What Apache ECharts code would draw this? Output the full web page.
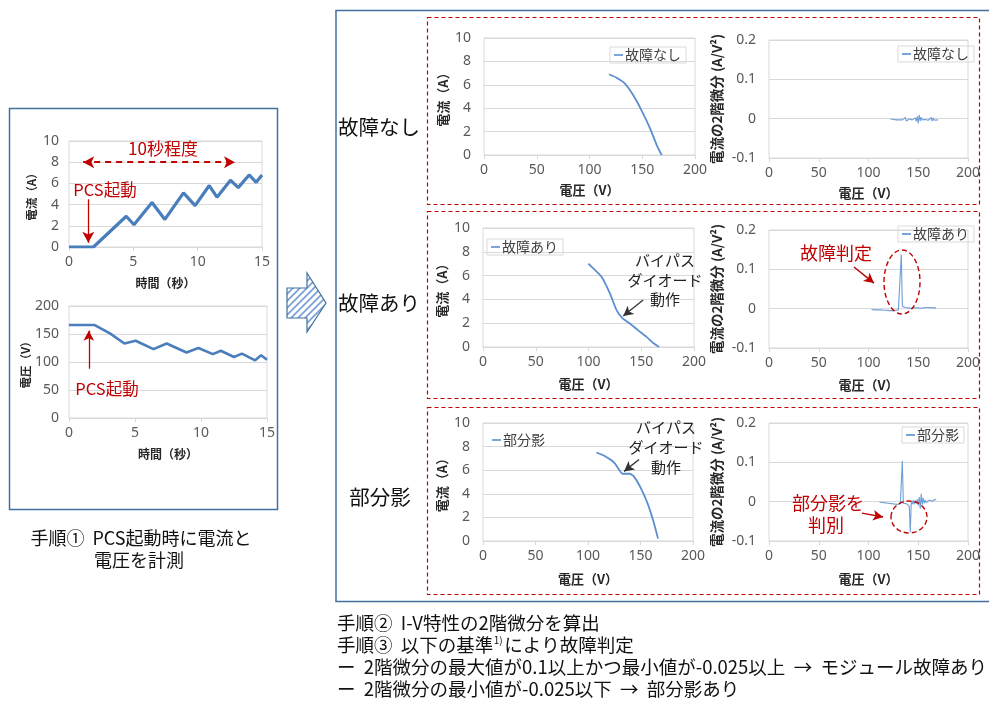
<!DOCTYPE html>
<html><head><meta charset="utf-8">
<script src="https://cdn.jsdelivr.net/npm/echarts@6/dist/echarts.min.js"></script>
<style>html,body{margin:0;padding:0;background:#fff}#c{width:989px;height:702px}</style>
</head><body><div id="c"></div>
<script>
// ---------- data ----------
const currentT = [0, 1.9, 4.45, 5.05, 6.45, 7.45, 8.9, 9.8, 10.9, 11.5, 12.55, 13.15, 14.0, 14.55, 15];
const currentA = [0, 0, 2.9, 2.1, 4.2, 2.6, 5.1, 3.9, 5.8, 4.7, 6.3, 5.6, 6.8, 6.1, 6.8];
const voltageT = [0, 1.95, 3.1, 4.2, 5.05, 6.4, 7.4, 8.9, 9.8, 10.9, 11.5, 12.5, 13.1, 14.1, 14.55, 15];
const voltageV = [166, 166, 151, 133, 138, 123, 133, 117, 125, 114, 120, 109, 115, 103, 112, 104];

const ivNoneV = [118.5, 125.7, 133.6, 141.5, 149.4, 157.3, 163.7, 168.4];
const ivNoneI = [6.9, 6.6, 6.1, 5.1, 3.8, 2.3, 0.85, 0];
const ivFaultV = [99.8, 104.6, 112.4, 120.3, 126.6, 132.3, 139.2, 147.1, 155, 161.3, 166.9];
const ivFaultI = [7.0, 6.6, 5.9, 4.5, 3.1, 2.4, 1.97, 1.4, 0.85, 0.34, 0];
const ivShadeV = [108, 115.9, 125.4, 132.7, 139.7, 143.5, 150.8, 157.1, 162.5, 166.7];
const ivShadeI = [7.5, 7.2, 6.6, 5.7, 5.7, 5.5, 4.4, 3.1, 1.6, 0.2];

const d2NoneV = [122,123,124,125,126,127,128,129,130,131,132,133,134,135,136,137,138,139,140,141,142,143,144,145,146,147,148,149,150,151,152,153,154,155,156,157,158,159,160,161,162,163,164,165,166,167,168,169,170];
const d2NoneVal = [-0.001,-0.002,-0.001,-0.002,-0.002,-0.001,-0.003,-0.002,-0.002,-0.003,-0.002,-0.004,-0.003,-0.002,-0.008,0.003,-0.006,-0.002,-0.003,-0.001,-0.004,-0.002,-0.003,-0.001,-0.004,0.002,-0.007,0.006,-0.012,0.010,-0.006,0.004,-0.003,-0.001,-0.004,-0.002,-0.003,0.001,-0.004,-0.001,-0.005,0.003,-0.006,0.002,-0.004,-0.002,-0.005,-0.003,-0.004];

const d2FaultV = [103,104,105,106,107,108,109,110,111,112,113,114,115,116,117,118,119,120,121,122,123,124,125,126,127,128,129,130,131,132,133,134,135,136,137,138,139,140,141,142,143,144,145,146,147,148,149,150,151,152,153,154,155,156,157,158,159,160,161,162,163,164,165,166,167,168];
const d2FaultVal = [-0.002,-0.003,-0.002,-0.003,-0.003,-0.002,-0.003,-0.004,-0.003,-0.003,-0.004,-0.003,-0.004,-0.003,-0.004,-0.004,-0.003,-0.004,-0.005,-0.004,-0.004,-0.005,-0.004,-0.005,-0.004,-0.005,-0.004,-0.003,
  -0.002,0.002,0.138,0.006,0.002,
  0.002,0.003,0.001,0.003,0.002,0.002,0.003,0.001,0.002,0.003,0.002,0.001,0.003,0.002,0.002,0.003,0.001,0.002,0.003,0.002,0.002,0.001,0.003,0.002,0.002,0.003,0.001,0.002,0.002,0.003,0.001,0.002,0.002];

const d2ShadeV = [111,112,113,114,115,116,117,118,119,120,121,122,123,124,125,126,127,128,129,130,131,132,133,134,135,136,137,138,139,140,141,142,143,144,145,146,147,148,149,150,151,152,153,154,155,156,157,158,159,160,161,162,163,164,165,166,167,168];
const d2ShadeVal = [-0.001,-0.002,-0.002,-0.002,-0.003,-0.003,-0.003,-0.004,-0.004,-0.004,-0.005,-0.005,-0.005,-0.006,-0.006,-0.006,-0.007,-0.006,-0.007,-0.007,
  -0.006,-0.005,-0.002,0.104,-0.004,-0.003,-0.004,-0.005,-0.006,-0.008,-0.012,-0.078,0.001,-0.006,0.004,-0.007,0.003,-0.004,0.006,-0.010,0.012,-0.018,0.020,-0.008,0.010,-0.004,0.004,-0.002,0.003,0.000,0.004,-0.001,0.004,0.001,0.005,0.002,0.006,0.004];

const timeTicks = [0, 15, 5];
const currentTicks = [0, 10, 2];
const voltageTicks = [0, 200, 50];
const ivXTicks = [0, 200, 50];
const ivYTicks = [0, 10, 2];
const d2YTicks = [-0.1, 0.2, 0.1];

const seriesNames = ['故障なし', '故障あり', '部分影'];

// ---------- helpers ----------
const zip = (a, b) => a.map((v, i) => [v, b[i]]);
const FONT = '"Noto Sans CJK JP", "Noto Sans", sans-serif';
const NUMFONT = '"Noto Sans", "Liberation Sans", sans-serif';
const BLUE = '#4a7ebb';
const RED = '#c00000';

const grids = [
  {left: 69, top: 141, width: 193, height: 106},   // 0 current-time
  {left: 69, top: 306, width: 198, height: 112},   // 1 voltage-time
  {left: 484, top: 38, width: 211, height: 117},   // 2 IV none
  {left: 769, top: 40, width: 199, height: 118},   // 3 d2 none
  {left: 483, top: 228, width: 211, height: 119},  // 4 IV fault
  {left: 769, top: 230, width: 199, height: 118},  // 5 d2 fault
  {left: 483, top: 423, width: 210, height: 118},  // 6 IV shade
  {left: 769, top: 423, width: 199, height: 118}   // 7 d2 shade
];

function xAx(gi, t, name, gap, nameSize) {
  return {
    type: 'value', gridIndex: gi, min: t[0], max: t[1], interval: t[2],
    name: name, nameLocation: 'middle', nameGap: gap,
    nameTextStyle: {fontFamily: FONT, fontWeight: 'bold', fontSize: nameSize, color: '#262626'},
    axisLine: {onZero: false, lineStyle: {color: '#d9d9d9'}},
    axisTick: {show: true, length: 4, lineStyle: {color: '#d9d9d9'}},
    axisLabel: {fontFamily: NUMFONT, fontSize: 14, color: '#595959', margin: 8},
    splitLine: {show: false}
  };
}
function yAx(gi, t, name, gap, nameSize, margin, fmt) {
  return {
    type: 'value', gridIndex: gi, min: t[0], max: t[1], interval: t[2],
    name: name, nameLocation: 'middle', nameGap: gap, nameRotate: 90,
    nameTextStyle: {fontFamily: FONT, fontWeight: 'bold', fontSize: nameSize, color: '#262626'},
    axisLine: {show: false}, axisTick: {show: false},
    axisLabel: {fontFamily: NUMFONT, fontSize: 14, color: '#595959', margin: margin, formatter: fmt},
    splitLine: {show: true, lineStyle: {color: '#d9d9d9', width: 1}}
  };
}
const d2fmt = v => String(Number(v.toFixed(1)));

const xAxis = [
  xAx(0, timeTicks, '時間（秒）', 30, 12),
  xAx(1, timeTicks, '時間（秒）', 30, 12),
  xAx(2, ivXTicks, '電圧（V）', 29, 13),
  xAx(3, ivXTicks, '電圧（V）', 29, 13),
  xAx(4, ivXTicks, '電圧（V）', 31, 13),
  xAx(5, ivXTicks, '電圧（V）', 31, 13),
  xAx(6, ivXTicks, '電圧（V）', 32, 13),
  xAx(7, ivXTicks, '電圧（V）', 32, 13)
];
const yAxis = [
  yAx(0, currentTicks, '電流（A）', 32, 11.5, 10),
  yAx(1, voltageTicks, '電圧（V）', 38, 11.5, 10),
  yAx(2, ivYTicks, '電流（A）', 34, 13, 13),
  yAx(3, d2YTicks, '電流の2階微分 (A/V²)', 45, 13.5, 13, d2fmt),
  yAx(4, ivYTicks, '電流（A）', 34, 13, 13),
  yAx(5, d2YTicks, '電流の2階微分 (A/V²)', 45, 13.5, 13, d2fmt),
  yAx(6, ivYTicks, '電流（A）', 34, 13, 13),
  yAx(7, d2YTicks, '電流の2階微分 (A/V²)', 45, 13.5, 13, d2fmt)
];

function arrowLine(from, to, color, width, dashed, both) {
  return {
    silent: true, animation: false,
    symbol: both ? ['arrow', 'arrow'] : ['none', 'arrow'],
    symbolSize: both ? [11, 12] : [8, 10],
    label: {show: false},
    lineStyle: {color: color, width: width, type: dashed ? [6, 4] : 'solid'},
    emphasis: {disabled: true},
    data: [[{coord: from}, {coord: to}]]
  };
}

function lineSeries(name, gi, data, color, width, smooth, ml) {
  const s = {
    name: name, type: 'line', xAxisIndex: gi, yAxisIndex: gi,
    data: data, showSymbol: false, symbol: 'none', smooth: smooth || false,
    lineStyle: {color: color, width: width}, itemStyle: {color: color},
    emphasis: {disabled: true}, animation: false
  };
  if (ml) s.markLine = ml;
  return s;
}

const series = [
  lineSeries('current', 0, zip(currentT, currentA), BLUE, 3.2, false,
    {
      silent: true, animation: false, label: {show: false}, emphasis: {disabled: true},
      data: [
        [{coord: [1.1, 8], symbol: 'arrow', lineStyle: {color: RED, width: 2.2, type: [6, 5]}},
         {coord: [12.9, 8], symbol: 'arrow'}],
        [{coord: [1.5, 4.5], symbol: 'none', lineStyle: {color: RED, width: 1.3, type: 'solid'}},
         {coord: [1.5, 0.4], symbol: 'arrow'}]
      ],
      symbolSize: [9, 11]
    }),
  lineSeries('voltage', 1, zip(voltageT, voltageV), BLUE, 2.6, false,
    arrowLine([1.5, 88], [1.5, 156], RED, 1.3, false, false)),
  lineSeries(seriesNames[0], 2, zip(ivNoneV, ivNoneI), '#5b8fd0', 1.8, 0.25),
  lineSeries(seriesNames[0], 3, zip(d2NoneV, d2NoneVal), '#6f9fd8', 1.1, false),
  lineSeries(seriesNames[1], 4, zip(ivFaultV, ivFaultI), '#5b8fd0', 1.8, 0.15,
    arrowLine([151.8, 3.94], [132.9, 2.6], '#333', 1.3, false, false)),
  lineSeries(seriesNames[1], 5, zip(d2FaultV, d2FaultVal), '#6f9fd8', 1.1, false,
    arrowLine([85.4, 0.106], [105.5, 0.065], RED, 1.4, false, false)),
  lineSeries(seriesNames[2], 6, zip(ivShadeV, ivShadeI), '#5b8fd0', 1.8, 0.15,
    arrowLine([148.6, 6.9], [134.3, 5.9], '#333', 1.3, false, false)),
  lineSeries(seriesNames[2], 7, zip(d2ShadeV, d2ShadeVal), '#6f9fd8', 1.1, false,
    arrowLine([93.5, -0.029], [114.6, -0.039], RED, 1.4, false, false))
];

function legendAt(name, left, top, border) {
  return {
    data: [name], left: left, top: top, orient: 'horizontal',
    icon: 'rect', itemWidth: 9, itemHeight: 1.6, itemGap: 0,
    padding: [1, 5, 1, 4], borderColor: border ? '#d9d9d9' : 'transparent', borderWidth: 1,
    selectedMode: false,
    textStyle: {fontFamily: FONT, fontSize: 14, color: '#404040', padding: [0, 0, 0, -3]}
  };
}
const legend = [
  legendAt(seriesNames[0], 610, 47, true),
  legendAt(seriesNames[0], 898, 46, true),
  legendAt(seriesNames[1], 487, 239, true),
  legendAt(seriesNames[1], 898, 226, true),
  legendAt(seriesNames[2], 488, 432, false),
  legendAt(seriesNames[2], 902, 427, true)
];

// hatched pattern for the big arrow
const pc = document.createElement('canvas');
pc.width = 7; pc.height = 7;
const pctx = pc.getContext('2d');
pctx.fillStyle = '#ffffff'; pctx.fillRect(0, 0, 7, 7);
pctx.strokeStyle = '#7ea3d6'; pctx.lineWidth = 1.9;
pctx.beginPath();
pctx.moveTo(-1, 8); pctx.lineTo(8, -1);
pctx.moveTo(-4, 4); pctx.lineTo(4, -4);
pctx.moveTo(3, 11); pctx.lineTo(11, 3);
pctx.stroke();

function txt(text, x, y, size, color, align, weight) {
  return {
    type: 'text', silent: true, z: 10,
    style: {
      text: text, x: x, y: y, fill: color || '#222',
      font: (weight || 'normal') + ' ' + size + 'px ' + FONT,
      textAlign: align || 'center', textVerticalAlign: 'middle'
    }
  };
}
function dashBox(x, y, w, h) {
  return {type: 'rect', silent: true, shape: {x: x, y: y, width: w, height: h},
    style: {fill: 'none', stroke: RED, lineWidth: 1.2, lineDash: [4, 3]}};
}

// measure for superscript placement
const BSZ = 18.5;
const mc = document.createElement('canvas').getContext('2d');
mc.font = BSZ + 'px ' + FONT;
const line2a = '手順③  以下の基準';
const w2a = mc.measureText(line2a).width;

const graphic = [
  // blue frames
  {type: 'rect', silent: true, shape: {x: 9.5, y: 108.5, width: 268, height: 401},
    style: {fill: 'none', stroke: '#41719c', lineWidth: 1.5}},
  {type: 'rect', silent: true, shape: {x: 336, y: 10.5, width: 670, height: 591},
    style: {fill: 'none', stroke: '#41719c', lineWidth: 1.5}},
  dashBox(427.5, 17.5, 552, 187),
  dashBox(427.5, 211.5, 552, 187),
  dashBox(427.5, 407.5, 552, 187),
  // hatched arrow
  {type: 'polygon', silent: true,
    shape: {points: [[287, 288], [307, 288], [307, 273], [326, 303], [307, 332], [307, 318], [287, 318]]},
    style: {fill: {image: pc, repeat: 'repeat'}, stroke: '#41719c', lineWidth: 1.2}},
  // row labels
  txt('故障なし', 379, 127, 20.5, '#111'),
  txt('故障あり', 379, 303, 20.5, '#111'),
  txt('部分影', 380, 497, 20.5, '#111'),
  // left annotations
  txt('10秒程度', 163, 149, 17, RED),
  txt('PCS起動', 105, 190, 16.5, RED),
  txt('PCS起動', 107, 389, 16.5, RED),
  // bypass diode
  txt('バイパス', 665, 260, 15, '#222'),
  txt('ダイオード', 665, 280, 15, '#222'),
  txt('動作', 665, 299, 15, '#222'),
  txt('バイパス', 666, 427, 15, '#222'),
  txt('ダイオード', 666, 447, 15, '#222'),
  txt('動作', 666, 467, 15, '#222'),
  // red judgement texts
  txt('故障判定', 836, 253, 18, RED),
  txt('部分影を', 828, 503, 18, RED),
  txt('判別', 826, 525, 18, RED),
  {type: 'ellipse', silent: true, z: 10, shape: {cx: 902, cy: 282, rx: 18, ry: 32},
    style: {fill: 'none', stroke: RED, lineWidth: 1.4, lineDash: [5, 3]}},
  {type: 'ellipse', silent: true, z: 10, shape: {cx: 909, cy: 517, rx: 18, ry: 16},
    style: {fill: 'none', stroke: RED, lineWidth: 1.4, lineDash: [5, 3]}},
  // bottom-left caption
  txt('手順①  PCS起動時に電流と', 141, 538, 18, '#111'),
  txt('電圧を計測', 139, 560, 18, '#111'),
  // bottom-right steps
  txt('手順②  I-V特性の2階微分を算出', 337, 623, BSZ, '#111', 'left'),
  txt(line2a, 337, 645, BSZ, '#111', 'left'),
  txt('1)', 337 + w2a + 0.5, 640, 10, '#111', 'left'),
  txt('により故障判定', 337 + w2a + 11, 645, BSZ, '#111', 'left'),
  txt('ー  2階微分の最大値が0.1以上かつ最小値が-0.025以上  →  モジュール故障あり', 337, 667, BSZ, '#111', 'left'),
  txt('ー  2階微分の最小値が-0.025以下  →  部分影あり', 337, 689, BSZ, '#111', 'left')
];

const chart = echarts.init(document.getElementById('c'), null, {renderer: 'canvas'});
chart.setOption({
  animation: false,
  backgroundColor: '#ffffff',
  textStyle: {fontFamily: FONT},
  grid: grids.map(g => Object.assign({show: true, borderColor: '#d9d9d9', borderWidth: 1, backgroundColor: 'transparent'}, g)),
  xAxis: xAxis,
  yAxis: yAxis,
  legend: legend,
  series: series,
  graphic: graphic
});
</script>
</body></html>
